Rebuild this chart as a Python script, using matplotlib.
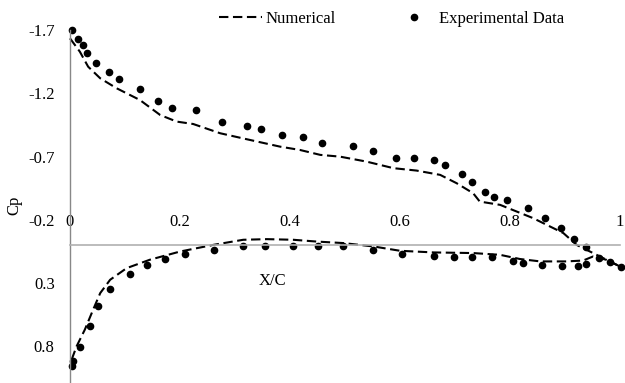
import matplotlib
matplotlib.use("Agg")
import matplotlib.pyplot as plt

plt.rcParams['font.family'] = ['Liberation Serif', 'DejaVu Serif']
plt.rcParams['font.size'] = 12
plt.rcParams['axes.unicode_minus'] = False

# experimental data, upper surface (suction side)
exp_up_x = [0.003, 0.014, 0.023, 0.031, 0.048, 0.070, 0.089, 0.127, 0.160, 0.185,
            0.229, 0.276, 0.322, 0.348, 0.385, 0.423, 0.459, 0.515, 0.551, 0.592,
            0.625, 0.661, 0.682, 0.713, 0.730, 0.755, 0.771, 0.794, 0.832, 0.864,
            0.892, 0.916, 0.938, 0.962, 0.982, 1.002]
exp_up_cp = [-1.70, -1.63, -1.58, -1.515, -1.44, -1.37, -1.315, -1.236, -1.139, -1.084,
             -1.07, -0.971, -0.939, -0.916, -0.871, -0.852, -0.805, -0.786, -0.744, -0.691,
             -0.687, -0.676, -0.634, -0.560, -0.502, -0.418, -0.379, -0.358, -0.292, -0.218,
             -0.137, -0.050, 0.016, 0.103, 0.134, 0.177]

# experimental data, lower surface
exp_lo_x = [0.003, 0.006, 0.019, 0.036, 0.050, 0.072, 0.109, 0.140, 0.173, 0.209,
            0.261, 0.315, 0.355, 0.405, 0.450, 0.497, 0.551, 0.603, 0.662, 0.698,
            0.730, 0.768, 0.806, 0.824, 0.858, 0.894, 0.924, 0.939]
exp_lo_cp = [0.958, 0.913, 0.803, 0.637, 0.479, 0.345, 0.227, 0.158, 0.108, 0.069,
             0.039, 0.011, 0.006, 0.006, 0.008, 0.011, 0.037, 0.071, 0.090, 0.098,
             0.098, 0.098, 0.122, 0.142, 0.161, 0.163, 0.163, 0.153]

# numerical results
num_up_x = [0.0, 0.018, 0.033, 0.055, 0.085, 0.127, 0.164, 0.194, 0.224, 0.273,
            0.321, 0.382, 0.418, 0.455, 0.491, 0.539, 0.588, 0.630, 0.673, 0.703,
            0.733, 0.745, 0.782, 0.842, 0.897, 0.921, 0.951, 1.0]
num_up_cp = [-1.634, -1.528, -1.41, -1.318, -1.239, -1.147, -1.028, -0.976, -0.957, -0.884,
             -0.837, -0.778, -0.752, -0.713, -0.699, -0.660, -0.608, -0.589, -0.555, -0.489,
             -0.410, -0.344, -0.318, -0.213, -0.095, -0.002, 0.063, 0.169]

num_lo_x = [0.003, 0.012, 0.027, 0.042, 0.055, 0.073, 0.103, 0.145, 0.200, 0.261,
            0.315, 0.358, 0.406, 0.448, 0.497, 0.552, 0.600, 0.661, 0.733, 0.782,
            0.818, 0.855, 0.903, 0.933, 0.951, 0.975, 1.0]
num_lo_cp = [0.905, 0.80, 0.668, 0.511, 0.379, 0.274, 0.182, 0.116, 0.051, -0.002,
             -0.042, -0.047, -0.042, -0.028, -0.016, 0.011, 0.045, 0.058, 0.063, 0.077,
             0.11, 0.129, 0.129, 0.122, 0.09, 0.116, 0.169]

fig = plt.figure(figsize=(6.25, 3.83), dpi=100)
ax = fig.add_axes([70 / 625, 0.0, 550 / 625, 1 - 30 / 383])

dash = (4.5, 2.2)
ax.plot(num_up_x, num_up_cp, color='black', lw=1.5, dashes=dash, label='Numerical', clip_on=False)
ax.plot(num_lo_x, num_lo_cp, color='black', lw=1.5, dashes=dash, clip_on=False)
ax.plot(exp_up_x + exp_lo_x, exp_up_cp + exp_lo_cp, 'o', color='black', ms=4.5,
        label='Experimental Data', clip_on=False)

ax.set_xlim(0, 1)
ax.set_ylim(1.09, -1.7)
ax.set_xticks([0, 0.2, 0.4, 0.6, 0.8, 1])
ax.set_xticklabels(['0', '0.2', '0.4', '0.6', '0.8', '1'])
ax.set_yticks([-1.7, -1.2, -0.7, -0.2, 0.3, 0.8])

ax.spines['right'].set_visible(False)
ax.spines['bottom'].set_visible(False)
ax.spines['top'].set_position(('data', 0))
ax.spines['top'].set_color('#b0b0b0')
ax.spines['top'].set_linewidth(1.2)
ax.spines['left'].set_color('#888888')
ax.spines['left'].set_linewidth(1.0)
ax.xaxis.tick_top()
ax.tick_params(axis='x', length=0, pad=11)
ax.tick_params(axis='y', length=0, pad=11)

ax.text(0.369, 0.282, 'X/C', ha='center', va='center')
fig.text(14 / 625, 1 - 205 / 383, 'Cp', rotation=90, ha='center', va='center')

fig.legend(loc='center left', bbox_to_anchor=(219 / 625, 1 - 19 / 383), ncol=2,
           frameon=False, borderpad=0, borderaxespad=0, handlelength=2.6,
           handletextpad=0.2, columnspacing=3.4)

fig.savefig('out.png', dpi=100)
